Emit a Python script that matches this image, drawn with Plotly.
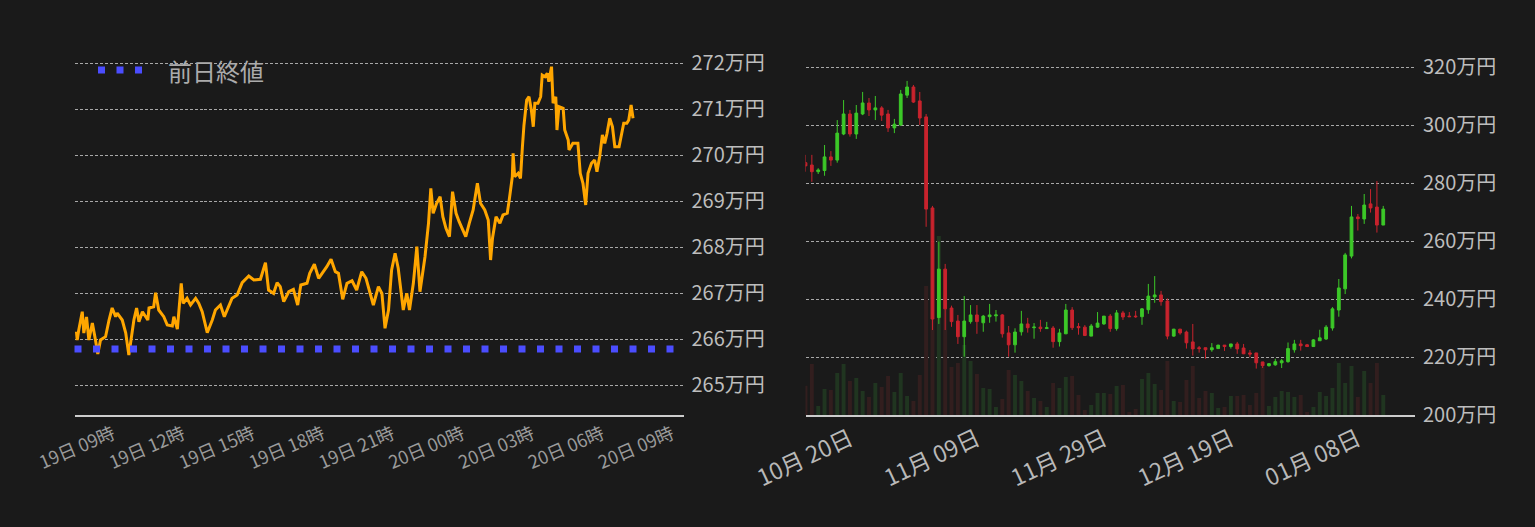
import plotly.graph_objects as go
import pandas as pd

# ---------------- intraday (left) ----------------
intraday_start = "2024-01-19 07:24"
intraday_minutes = [
    2, 4, 8, 17, 21, 28, 34, 43, 51, 57,
    64, 77, 86, 94, 103, 107, 120, 129, 137, 143,
    150, 157, 163, 172, 186, 189, 201, 206, 214, 227,
    236, 249, 253, 262, 266, 272, 277, 287, 296, 309,
    317, 326, 339, 352, 360, 373, 383, 390, 403, 416,
    429, 446, 459, 476, 489, 497, 510, 519, 527, 536,
    549, 561, 572, 580, 596, 603, 615, 626, 639, 647,
    658, 669, 677, 688, 699, 712, 724, 737, 748, 759,
    767, 780, 789, 797, 806, 814, 823, 831, 844, 853,
    860, 870, 879, 887, 900, 909, 915, 921, 930, 939,
    946, 954, 963, 971, 980, 988, 997, 1005, 1014, 1024,
    1035, 1043, 1054, 1063, 1069, 1074, 1083, 1093, 1101, 1112,
    1117, 1125, 1127, 1131, 1140, 1146, 1151, 1155, 1162, 1168,
    1174, 1179, 1183, 1191, 1198, 1202, 1209, 1215, 1219, 1226,
    1230, 1237, 1240, 1245, 1256, 1260, 1269, 1271, 1281, 1294,
    1300, 1307, 1314, 1320, 1329, 1337, 1343, 1350, 1357, 1363,
    1369, 1376, 1383, 1389, 1400, 1408, 1412, 1420, 1425, 1431,
    1436,
]
intraday_price = [
    2661590, 2659780, 2661960, 2665930, 2661300, 2664780, 2659780, 2663480, 2659780, 2656740,
    2659780, 2660500, 2664130, 2666740, 2664850, 2665650, 2664130, 2661300, 2656520, 2660500,
    2664130, 2666740, 2663760, 2665930, 2664130, 2666740, 2667020, 2670070, 2666300, 2664850,
    2663040, 2662830, 2664850, 2662170, 2667020, 2672110, 2667760, 2668850, 2667390, 2668850,
    2667760, 2665930, 2661370, 2664130, 2666300, 2667390, 2664850, 2666300, 2668850, 2669570,
    2672240, 2673700, 2672830, 2672980, 2676590, 2670650, 2669930, 2672240, 2671370, 2668110,
    2670280, 2670800, 2667390, 2671740, 2672110, 2674280, 2676240, 2673200, 2674630, 2675720,
    2677330, 2674630, 2674280, 2668630, 2672110, 2672670, 2670650, 2674630, 2673200, 2670070,
    2667390, 2671370, 2669930, 2662330, 2666300, 2675000, 2678630, 2675370, 2666300, 2669930,
    2666300, 2672110, 2680070, 2670280, 2677890, 2685150, 2692760, 2687330, 2689500, 2690930,
    2686590, 2684070, 2682240, 2692020, 2687330, 2685500, 2683700, 2682240, 2685150, 2688040,
    2693850, 2689500, 2688040, 2685870, 2677170, 2681960, 2686590, 2685150, 2686960, 2687330,
    2690220, 2695280, 2700370, 2695280, 2696020, 2694930, 2701800, 2706520, 2711960, 2712670,
    2709780, 2706150, 2711240, 2711240, 2712670, 2717390, 2717020, 2717760, 2715930, 2719200,
    2711240, 2712670, 2705430, 2710500, 2710150, 2705430, 2703260, 2701090, 2702540, 2702540,
    2696020, 2693850, 2689130, 2696020, 2698200, 2698910, 2696370, 2699630, 2704350, 2702540,
    2704720, 2707980, 2706150, 2701800, 2701800, 2705070, 2706890, 2706890, 2707610, 2710870,
    2707980,
]
prev_close = 2657800
prev_close_label = "前日終値"
intraday_ticks = ["2024-01-19 09:00", "2024-01-19 12:00", "2024-01-19 15:00",
                  "2024-01-19 18:00", "2024-01-19 21:00", "2024-01-20 00:00",
                  "2024-01-20 03:00", "2024-01-20 06:00", "2024-01-20 09:00"]
intraday_ticktext = ["19日 09時", "19日 12時", "19日 15時", "19日 18時", "19日 21時",
                     "20日 00時", "20日 03時", "20日 06時", "20日 09時"]
intraday_yticks = [2650000, 2660000, 2670000, 2680000, 2690000, 2700000, 2710000, 2720000]

# ---------------- daily (right), prices in 万円 ----------------
daily_start = "2023-10-13"
daily_open = [
    287.0, 286.2, 283.9, 284.3, 289.0, 287.9, 296.9, 303.8, 296.9, 303.8,
    307.6, 305.2, 305.9, 303.8, 299.0, 300.0, 310.3, 313.1, 308.3, 302.8,
    271.4, 233.6, 250.3, 236.9, 232.4, 227.0, 232.2, 234.5, 231.8, 233.9,
    234.2, 234.5, 228.3, 224.2, 228.7, 231.4, 230.1, 230.3, 229.8, 230.0,
    225.3, 228.0, 236.2, 230.5, 230.3, 227.2, 230.3, 231.4, 234.1, 229.8,
    235.2, 234.1, 234.1, 233.9, 236.3, 240.7, 241.4, 239.3, 227.2, 229.6,
    228.6, 225.2, 223.2, 223.2, 222.5, 222.9, 224.1, 223.6, 224.5, 223.1,
    221.4, 221.4, 218.3, 217.0, 217.3, 218.0, 218.4, 222.5, 224.5, 224.2,
    223.6, 225.6, 226.2, 230.0, 236.2, 243.5, 254.8, 268.3, 267.6, 272.8,
    271.7, 265.5,
]
daily_high = [
    289.7, 289.7, 285.1, 293.1, 291.0, 301.7, 308.6, 305.2, 306.9, 311.4,
    309.3, 310.0, 306.5, 305.2, 302.1, 312.1, 315.2, 313.8, 311.4, 303.8,
    272.1, 259.8, 252.1, 237.7, 234.5, 241.0, 237.9, 237.9, 234.5, 238.3,
    236.2, 234.8, 230.7, 229.9, 235.9, 233.5, 231.7, 232.8, 232.1, 230.7,
    229.7, 238.3, 237.2, 231.7, 231.0, 231.4, 235.5, 234.1, 234.8, 236.2,
    235.9, 235.5, 235.9, 236.9, 245.2, 247.9, 242.8, 240.2, 229.7, 229.7,
    229.1, 231.4, 223.8, 223.2, 224.8, 224.2, 224.1, 224.5, 225.2, 224.5,
    222.4, 221.4, 218.3, 217.9, 219.4, 219.3, 225.0, 225.9, 225.9, 224.5,
    226.2, 229.4, 231.0, 237.2, 246.9, 255.9, 272.1, 269.3, 276.2, 277.9,
    280.7, 272.1,
]
daily_low = [
    283.9, 280.4, 283.1, 282.5, 285.9, 287.0, 296.5, 296.0, 295.2, 303.4,
    303.1, 301.7, 301.4, 297.6, 297.2, 299.7, 309.3, 307.6, 300.0, 264.9,
    229.3, 231.4, 229.3, 230.4, 224.5, 220.1, 231.5, 228.0, 228.7, 231.8,
    232.2, 226.7, 220.1, 221.5, 227.4, 228.4, 226.3, 228.7, 229.7, 223.2,
    223.6, 227.9, 229.3, 227.7, 227.4, 227.2, 230.1, 231.1, 228.7, 229.1,
    232.8, 233.8, 233.5, 231.1, 234.9, 238.7, 237.7, 226.1, 227.0, 227.7,
    222.9, 220.5, 221.5, 219.4, 221.8, 222.8, 222.1, 222.9, 221.1, 221.0,
    219.9, 216.0, 216.2, 216.7, 217.0, 216.2, 218.0, 221.5, 222.2, 223.6,
    223.6, 225.6, 225.9, 229.1, 233.9, 241.7, 254.0, 263.6, 265.9, 269.8,
    262.9, 265.5,
]
daily_close = [
    285.9, 283.9, 284.5, 289.0, 287.9, 297.2, 303.8, 296.9, 304.1, 307.6,
    305.2, 305.9, 303.4, 299.0, 300.3, 310.7, 313.1, 307.9, 302.4, 271.0,
    233.1, 250.3, 236.6, 232.2, 227.0, 232.4, 234.5, 232.2, 234.1, 234.5,
    234.5, 228.0, 224.2, 228.6, 231.4, 230.1, 230.3, 229.8, 230.1, 225.3,
    228.3, 236.2, 230.1, 230.1, 227.4, 230.7, 231.7, 234.1, 229.8, 235.2,
    233.8, 233.9, 233.9, 236.6, 241.0, 241.4, 239.1, 227.2, 229.6, 228.3,
    224.9, 222.8, 222.9, 222.5, 223.2, 224.1, 223.6, 224.5, 222.8, 221.1,
    221.0, 218.0, 217.0, 217.7, 218.4, 218.7, 222.9, 224.5, 223.9, 223.6,
    225.9, 226.6, 230.3, 236.6, 243.8, 255.2, 268.3, 267.7, 272.4, 271.4,
    265.5, 271.0,
]
daily_volume = [
    293, 510, 90, 260, 250, 420, 510, 340, 370, 240,
    180, 320, 280, 390, 230, 420, 190, 140, 400, 1290,
    1650, 1790, 1200, 480, 520, 700, 540, 410, 270, 260,
    80, 160, 450, 400, 340, 240, 170, 140, 80, 320,
    270, 380, 390, 200, 50, 100, 220, 220, 210, 290,
    300, 30, 60, 360, 420, 310, 250, 540, 140, 130,
    350, 490, 170, 240, 220, 70, 80, 190, 190, 200,
    100, 220, 480, 90, 180, 240, 230, 180, 200, 30,
    80, 230, 190, 270, 520, 320, 490, 180, 440, 320,
    520, 200,
]
daily_ticks = ["2023-10-20", "2023-11-09", "2023-11-29", "2023-12-19", "2024-01-08"]
daily_ticktext = ["10月 20日", "11月 09日", "11月 29日", "12月 19日", "01月 08日"]
daily_yticks = [200, 220, 240, 260, 280, 300, 320]

# ---------------- styling ----------------
W, H = 1535, 527
BG = "#1a1a1a"
ORANGE = "#ffa600"
BLUE = "#4b4dff"
GREEN = "#3cc828"
RED = "#c8232d"
VGREEN = "#203520"
VRED = "#321e1e"
GRID = "#a8a8a8"
FONT = "Noto Sans CJK JP"


def px_x(p):
    return p / W


def px_y(p):
    return 1 - p / H


top_px, bottom_px = 40, 415
ydom = [px_y(bottom_px), px_y(top_px)]

fig = go.Figure()

t_intraday = [pd.Timestamp(intraday_start) + pd.Timedelta(minutes=m) for m in intraday_minutes]
fig.add_trace(go.Scatter(
    x=t_intraday, y=intraday_price, mode="lines",
    line=dict(color=ORANGE, width=3), xaxis="x", yaxis="y",
    showlegend=False, hoverinfo="skip",
))

dates = pd.date_range(daily_start, periods=len(daily_open), freq="D")
vol_colors = [VGREEN if c >= o else VRED for o, c in zip(daily_open, daily_close)]
fig.add_trace(go.Bar(
    x=dates, y=daily_volume, marker=dict(color=vol_colors, line=dict(width=0)),
    width=0.62 * 86400000, xaxis="x2", yaxis="y2", showlegend=False, hoverinfo="skip",
))
fig.add_trace(go.Candlestick(
    x=dates,
    open=[v * 10000 for v in daily_open],
    high=[v * 10000 for v in daily_high],
    low=[v * 10000 for v in daily_low],
    close=[v * 10000 for v in daily_close],
    increasing=dict(line=dict(color=GREEN, width=1), fillcolor=GREEN),
    decreasing=dict(line=dict(color=RED, width=1), fillcolor=RED),
    whiskerwidth=0, xaxis="x2", yaxis="y3", showlegend=False, hoverinfo="skip",
))

# previous close dotted line (full width of left plot)
dotdash = "7px,11.5px"
fig.add_shape(type="line", xref="x domain", yref="y", x0=0, x1=1,
              y0=prev_close, y1=prev_close, layer="above",
              line=dict(color=BLUE, width=7, dash=dotdash))
# legend sample + label
fig.add_shape(type="line", xref="paper", yref="paper",
              x0=px_x(98), x1=px_x(143), y0=px_y(70), y1=px_y(70),
              line=dict(color=BLUE, width=7, dash=dotdash))
fig.add_annotation(xref="paper", yref="paper", x=px_x(166), y=px_y(70),
                   text=prev_close_label, showarrow=False, xanchor="left", yanchor="middle",
                   font=dict(family=FONT, size=24, color="#ababab"))

left_yrange = [2650000 - (bottom_px - 385) / 46 * 10000, 2650000 + (385 - top_px) / 46 * 10000]
right_yrange = [2000000, 2000000 + (bottom_px - top_px) / 2.9 * 10000]

common_y = dict(
    side="right", showgrid=True, gridcolor=GRID, gridwidth=1, griddash="3px,2px",
    zeroline=False, showline=False, ticks="", ticklabelstandoff=7, automargin=False,
    tickfont=dict(family=FONT, size=20, color="#bdbdbd"),
)

fig.update_layout(
    width=W, height=H, autosize=False,
    margin=dict(l=0, r=0, t=0, b=0, pad=0),
    paper_bgcolor=BG, plot_bgcolor=BG,
    showlegend=False, hovermode=False,
    boxgap=0.38,
    font=dict(family=FONT),
    xaxis=dict(
        domain=[px_x(74.5), px_x(683.5)], anchor="y", type="date",
        range=["2024-01-19 07:21", "2024-01-20 09:30"],
        tickvals=intraday_ticks, ticktext=intraday_ticktext, tickangle=-23,
        tickfont=dict(family=FONT, size=18, color="#9a9a9a"),
        showgrid=False, zeroline=False, showline=True, linecolor="#cccccc", linewidth=2,
        ticks="", automargin=False,
    ),
    yaxis=dict(
        domain=ydom, anchor="x", range=left_yrange,
        tickvals=intraday_yticks, ticktext=[f"{v // 10000}万円" for v in intraday_yticks],
        **common_y,
    ),
    xaxis2=dict(
        domain=[px_x(805.5), px_x(1415)], anchor="y2", type="date",
        range=["2023-10-13 00:00", "2024-01-17 00:00"],
        tickvals=daily_ticks, ticktext=daily_ticktext, tickangle=-25,
        tickfont=dict(family=FONT, size=23, color="#b8b8b8"),
        showgrid=False, zeroline=False, showline=True, linecolor="#cccccc", linewidth=2,
        ticks="", rangeslider=dict(visible=False), automargin=False,
    ),
    yaxis2=dict(
        domain=ydom, anchor="x2", range=[0, 3750], visible=False, showgrid=False,
        automargin=False,
    ),
    yaxis3=dict(
        overlaying="y2", anchor="x2", range=right_yrange,
        tickvals=[v * 10000 for v in daily_yticks],
        ticktext=[f"{v}万円" for v in daily_yticks],
        **common_y,
    ),
)

fig.write_html(
    "out.html",
    config={"displayModeBar": False},
    post_script="document.body.style.margin='0';document.body.style.background='#1a1a1a';",
)
